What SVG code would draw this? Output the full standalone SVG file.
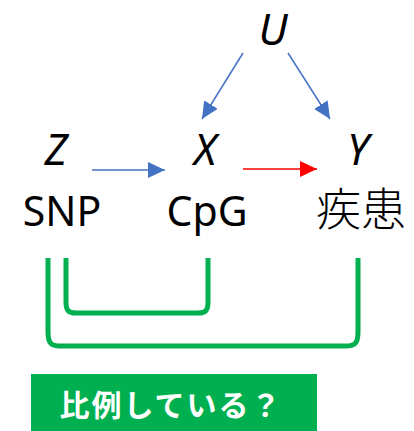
<svg xmlns="http://www.w3.org/2000/svg" width="414" height="431" viewBox="0 0 414 431">
  <style>
    .var { font-family: "Noto Sans", "Liberation Sans", sans-serif; font-style: italic; font-size: 43px; fill: #000; text-anchor: middle; }
    .lbl { font-family: "Noto Sans", "Liberation Sans", sans-serif; font-size: 41px; fill: #000; text-anchor: middle; }
    .cjk { font-family: "Noto Sans CJK JP", sans-serif; font-size: 45px; font-weight: 300; fill: #000; text-anchor: middle; }
    .blue { stroke: #4472C4; stroke-width: 1.5; fill: none; }
    .red { stroke: #FF0000; stroke-width: 1.5; fill: none; }
    .bracket { stroke: #00B050; stroke-width: 5; fill: none; stroke-linecap: butt; }
    .note { font-family: "Noto Sans CJK JP", sans-serif; font-size: 30px; font-weight: bold; fill: #fff; text-anchor: middle; letter-spacing: 2px; }
  </style>
  <defs>
    <marker id="headBlue" markerUnits="userSpaceOnUse" markerWidth="17" markerHeight="16" refX="17" refY="8" orient="auto">
      <path d="M0,0 L17,8 L0,16 Z" fill="#4472C4"/>
    </marker>
    <marker id="headRed" markerUnits="userSpaceOnUse" markerWidth="17" markerHeight="16" refX="17" refY="8" orient="auto">
      <path d="M0,0 L17,8 L0,16 Z" fill="#FF0000"/>
    </marker>
  </defs>

  <rect width="414" height="431" fill="#fff"/>

  <g id="node-U"><text class="var" x="273" y="45">U</text></g>
  <g id="node-Z"><text class="var" x="56" y="165">Z</text><text class="lbl" x="62" y="226">SNP</text></g>
  <g id="node-X"><text class="var" x="205" y="165">X</text><text class="lbl" x="207" y="226">CpG</text></g>
  <g id="node-Y"><text class="var" x="358" y="165">Y</text><text class="cjk" x="361" y="226">疾患</text></g>

  <g id="connectors">
    <line class="blue" x1="243" y1="53" x2="202" y2="119" marker-end="url(#headBlue)"/>
    <line class="blue" x1="288" y1="53" x2="330" y2="119" marker-end="url(#headBlue)"/>
    <line class="blue" x1="92" y1="170" x2="165" y2="170" marker-end="url(#headBlue)"/>
    <line class="red" x1="243" y1="169" x2="317" y2="169" marker-end="url(#headRed)"/>
    <path class="bracket" d="M48,258 V332 C48,343 51,346 60,346 H346 C355,346 358,343 358,332 V258"/>
    <path class="bracket" d="M66,258 V302 C66,310 68,313 76,313 H198 C206,313 208,310 208,302 V258"/>
  </g>

  <g id="note">
    <rect x="31" y="374" width="286" height="57" fill="#00B050"/>
    <text class="note" x="171" y="416">比例している？</text>
  </g>
</svg>
